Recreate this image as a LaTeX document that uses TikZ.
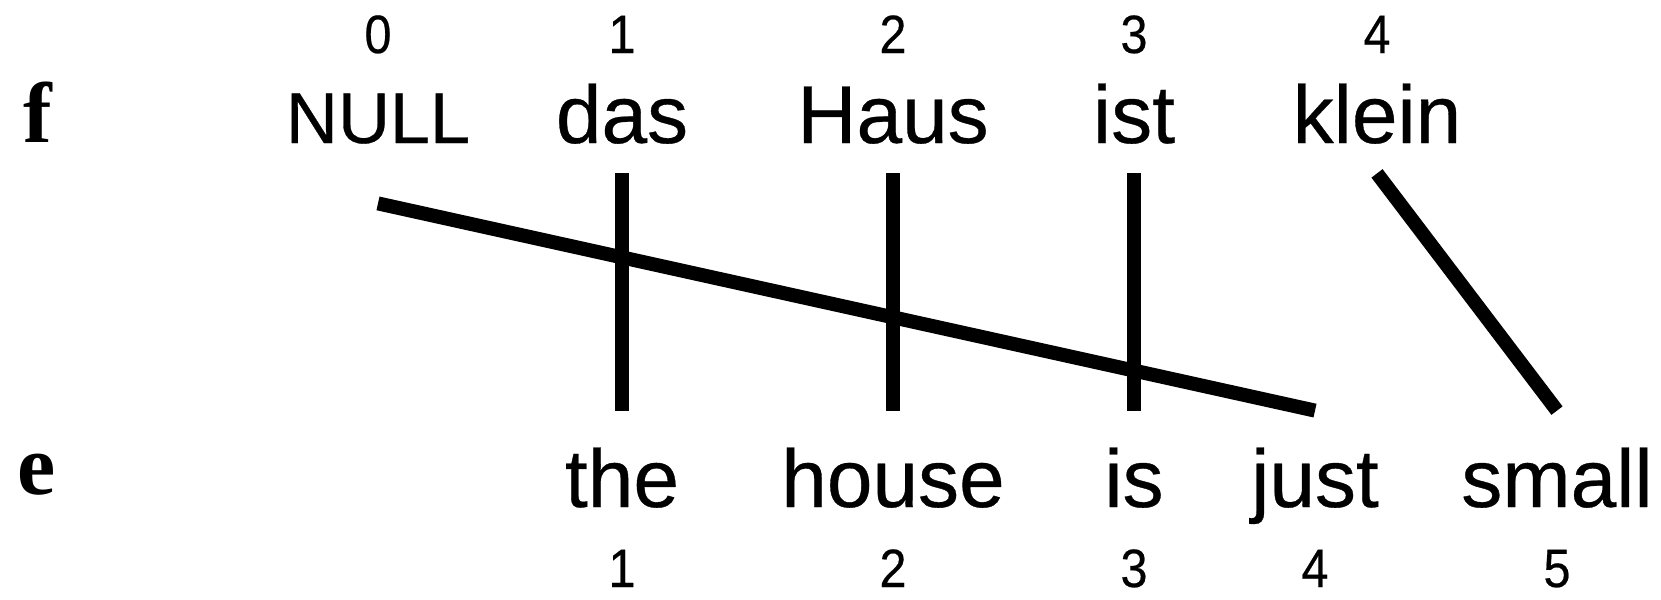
\documentclass[tikz,border=0pt]{standalone}
\usepackage{fontspec}
\setmainfont{Liberation Sans}
\newfontfamily\wordfont[FakeBold=0.4]{Liberation Sans}
\newfontfamily\numfont[FakeBold=0.4, FakeStretch=0.9]{Liberation Sans}
\newfontfamily\rowfont{Liberation Serif}
\usepackage{tikz}
\usetikzlibrary{positioning}
\tikzset{
    fword/.style={
        anchor=base,
        font=\wordfont\fontsize{41}{44}\selectfont,
        text depth=0pt,
        inner ysep=15pt
    },
    eword/.style={
        anchor=base,
        font=\wordfont\fontsize{41}{44}\selectfont,
        text height=28pt,
        text depth=0pt,
        inner ysep=20pt
    },
    posnum/.style={
        anchor=base,
        inner sep=1pt,
        font=\numfont\fontsize{27}{30}\selectfont
    },
    rowname/.style={
        anchor=base,
        font=\rowfont\bfseries\fontsize{43}{46}\selectfont
    },
    link/.style={
        line width=7pt,
        draw=black
    }
}

\begin{document}
\begin{tikzpicture}[x=0.5pt, y=-0.5pt]
    \useasboundingbox (0,0) rectangle (1661,600);

    % row names
    \node[rowname] (frow) at (38,142) {f};
    \node[rowname] (erow) at (37,494) {e};

    % foreign words
    \node[fword, font=\wordfont\fontsize{36}{40}\selectfont] (null) at (378,143) {NULL};
    \node[fword] (das) at (622,143) {das};
    \node[fword] (haus) at (893,143) {Haus};
    \node[fword] (ist) at (1134,143) {ist};
    \node[fword] (klein) at (1377,143) {klein};

    \node[posnum] (f0) at (378,53) {0};
    \node[posnum] (f1) at (622,53) {1};
    \node[posnum] (f2) at (893,53) {2};
    \node[posnum] (f3) at (1134,53) {3};
    \node[posnum] (f4) at (1377,53) {4};

    % english words
    \node[eword] (the) at (622,507) {the};
    \node[eword] (house) at (893,507) {house};
    \node[eword] (is) at (1134,507) {is};
    \node[eword] (just) at (1315,507) {just};
    \node[eword] (small) at (1557,507) {small};

    \node[posnum] (e1) at (622,587) {1};
    \node[posnum] (e2) at (893,587) {2};
    \node[posnum] (e3) at (1134,587) {3};
    \node[posnum] (e4) at (1315,587) {4};
    \node[posnum] (e5) at (1557,587) {5};

    % alignment
    \coordinate (nullfoot) at ([yshift=-15pt]null.south);
    \draw[link] (nullfoot) -- (just.north);
    \draw[link] (das.south) -- (the.north);
    \draw[link] (haus.south) -- (house.north);
    \draw[link] (ist.south) -- (is.north);
    \draw[link] (klein.south) -- (small.north);
\end{tikzpicture}
\end{document}
